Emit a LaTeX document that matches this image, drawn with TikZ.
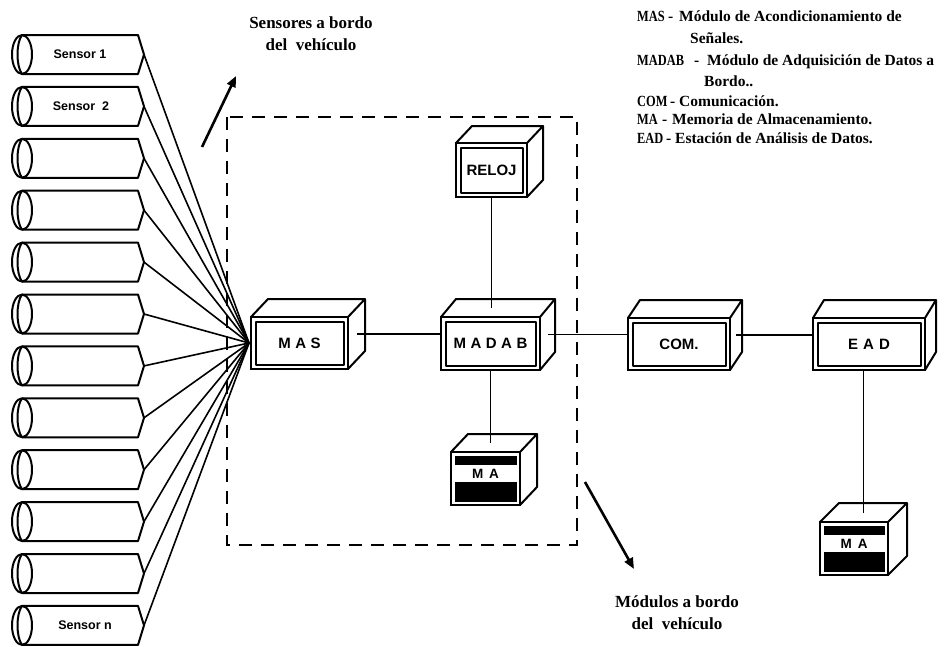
\documentclass[tikz,border=0pt]{standalone}
\usepackage{fontspec}
\setmainfont{Liberation Serif}
\setsansfont{Liberation Sans}
\newfontfamily\condserif[FakeStretch=0.8]{Liberation Serif Bold}
\usetikzlibrary{calc,arrows.meta}
\tikzset{
  x=1pt, y=-1pt,
  edge/.style={line width=2pt, line join=round},
  front/.style={draw, line width=2pt, inner sep=0pt, outer sep=0pt, fill=white,
    font=\sffamily\bfseries\fontsize{15}{18}\selectfont},
  conn/.style={line width=1.8pt},
  fanline/.style={line width=1.6pt},
  bigarrow/.style={line width=2.6pt, -{Triangle[length=11pt,width=9pt]}},
  legend/.style={anchor=base west, inner sep=0pt, font=\bfseries\fontsize{15.5}{18}\selectfont},
  legabbr/.style={anchor=base west, inner sep=0pt, font=\condserif\fontsize{15.5}{18}\selectfont},
  caption/.style={align=center, inner sep=0pt, font=\bfseries\fontsize{17}{22}\selectfont},
  sensortext/.style={inner sep=0pt, font=\sffamily\bfseries\fontsize{12.5}{14}\selectfont},
  matext/.style={inner sep=0pt, font=\sffamily\bfseries\fontsize{13.5}{15}\selectfont},
  dashbox/.style={line width=2pt, dash pattern=on 13pt off 9pt}
}
% name, cx, cy, w, h, dx, dy, label
\newcommand\cubebox[8]{%
  \node[front, minimum width=#4pt, minimum height=#5pt] (#1) at (#2,#3) {#8};
  \draw[edge] ([shift={(4.5,4.5)}]#1.north west) rectangle ([shift={(-4.5,-4.5)}]#1.south east);
  \draw[edge] (#1.north west) -- ++(#6,-#7) -- ($(#1.north east)+(#6,-#7)$) -- (#1.north east);
  \draw[edge] ($(#1.north east)+(#6,-#7)$) -- ($(#1.south east)+(#6,-#7)$) -- (#1.south east);
  \coordinate (#1-side) at ($(#1.east)+(#6/2,-#7/2)$);
  \coordinate (#1-top) at ($(#1.north)+(#6/2,-#7/2)$);
}
% name, cx, cy, w, h, dx, dy
\newcommand\mabox[7]{%
  \node[front, minimum width=#4pt, minimum height=#5pt] (#1) at (#2,#3) {};
  \fill ([shift={(3.5,3.5)}]#1.north west) rectangle ([shift={(-3.5,-3.5)}]#1.south east);
  \fill[white] ([shift={(3.5,-13.5)}]#1.west) rectangle ([shift={(-3.5,3.5)}]#1.east);
  \node[matext] (#1-lbl) at ($(#1.center)+(0,-5)$) {M\kern6pt A};
  \draw[edge] (#1.north west) -- ++(#6,-#7) -- ($(#1.north east)+(#6,-#7)$) -- (#1.north east);
  \draw[edge] ($(#1.north east)+(#6,-#7)$) -- ($(#1.south east)+(#6,-#7)$) -- (#1.south east);
  \coordinate (#1-top) at ($(#1.north)+(#6/2,-#7/2)$);
}
\newcommand\ls{\kern4.5pt}
\begin{document}
\begin{tikzpicture}
\fill[white] (0,0) rectangle (945,646);
\useasboundingbox (0,0) rectangle (945,646);

% sensors
\foreach \i in {1,...,12} {
  \pgfmathsetmacro\ty{35+51.9*(\i-1)}
  \pgfmathsetmacro\by{\ty+39}
  \pgfmathsetmacro\my{\ty+19.5}
  \draw[edge] (22,\ty) -- (138,\ty) -- (144,\my) -- (138,\by) -- (22,\by);
  \draw[edge] (22,\my) ellipse [x radius=10pt, y radius=19.5pt];
  \draw[edge] (22,\ty) .. controls (16,\ty+8) and (16,\by-8) .. (22,\by);
  \coordinate (t\i) at (144,\my);
}
\node[sensortext] (s1) at (80,54.5) {Sensor 1};
\node[sensortext] (s2) at (81,106.4) {Sensor~~2};
\node[sensortext] (sn) at (85,625.4) {Sensor n};

% fan of connectors
\coordinate (fan) at (249,343);
\foreach \i in {1,...,12} { \draw[fanline] (t\i) -- (fan); }

% dashed frame
\draw[dashbox] (227,117) rectangle (577,545);

% arrows and captions
\coordinate (a1s) at (202,147); \coordinate (a1e) at (236,76);
\draw[bigarrow] (a1s) -- (a1e);
\coordinate (a2s) at (585,482); \coordinate (a2e) at (634,569);
\draw[bigarrow] (a2s) -- (a2e);
\node[caption] (capS) at (311,34) {Sensores a bordo\\del~~vehículo};
\node[caption] (capM) at (677,613) {Módulos a bordo\\del~~vehículo};

% boxes
\cubebox{reloj}{491.5}{170}{71}{54}{16}{17}{RELOJ}
\cubebox{mas}{299.5}{343}{97}{52}{17}{18}{M\ls A\ls S}
\cubebox{madab}{490.5}{343.5}{99}{53}{15}{18}{M\ls A\ls D\ls A\ls B}
\cubebox{com}{679}{344}{102}{52}{12}{18}{COM.}
\cubebox{ead}{869}{344}{112}{52}{11}{18}{E\kern5pt A\kern5pt D}
\mabox{maone}{485.5}{478.5}{69}{53}{17}{18}
\mabox{matwo}{854}{548.5}{68}{53}{19}{19}

% connectors
\draw[conn] (mas-side) -- (mas-side -| madab.west);
\draw[conn] (madab-side) -- (madab-side -| com.west);
\draw[conn] (com-side) -- (com-side -| ead.west);
\draw[conn] (reloj.south) -- (reloj.south |- madab-top);
\draw[conn] (madab.south) -- (madab.south |- maone-top);
\draw[conn] (matwo-top) -- (matwo-top |- ead.south);

% legend
\node[legabbr] (l1a) at (637,21) {MAS};
\node[legend] (l1b) at (668,21) {-};
\node[legend] (l1c) at (679,21) {Módulo de Acondicionamiento de};
\node[legend] (l2) at (690,43) {Señales.};
\node[legabbr] (l3a) at (637,65) {MADAB};
\node[legend] (l3b) at (694,65) {-};
\node[legend] (l3c) at (707,65) {Módulo de Adquisición de Datos a};
\node[legend] (l4) at (704,86) {Bordo..};
\node[legabbr] (l5a) at (637,106) {COM};
\node[legend] (l5b) at (670,106) {-};
\node[legend] (l5c) at (679,106) {Comunicación.};
\node[legabbr] (l6a) at (637,124) {MA};
\node[legend] (l6b) at (662,124) {-};
\node[legend] (l6c) at (672,124) {Memoria de Almacenamiento.};
\node[legabbr] (l7a) at (637,143) {EAD};
\node[legend] (l7b) at (666,143) {-};
\node[legend] (l7c) at (675,143) {Estación de Análisis de Datos.};
\end{tikzpicture}
\end{document}
